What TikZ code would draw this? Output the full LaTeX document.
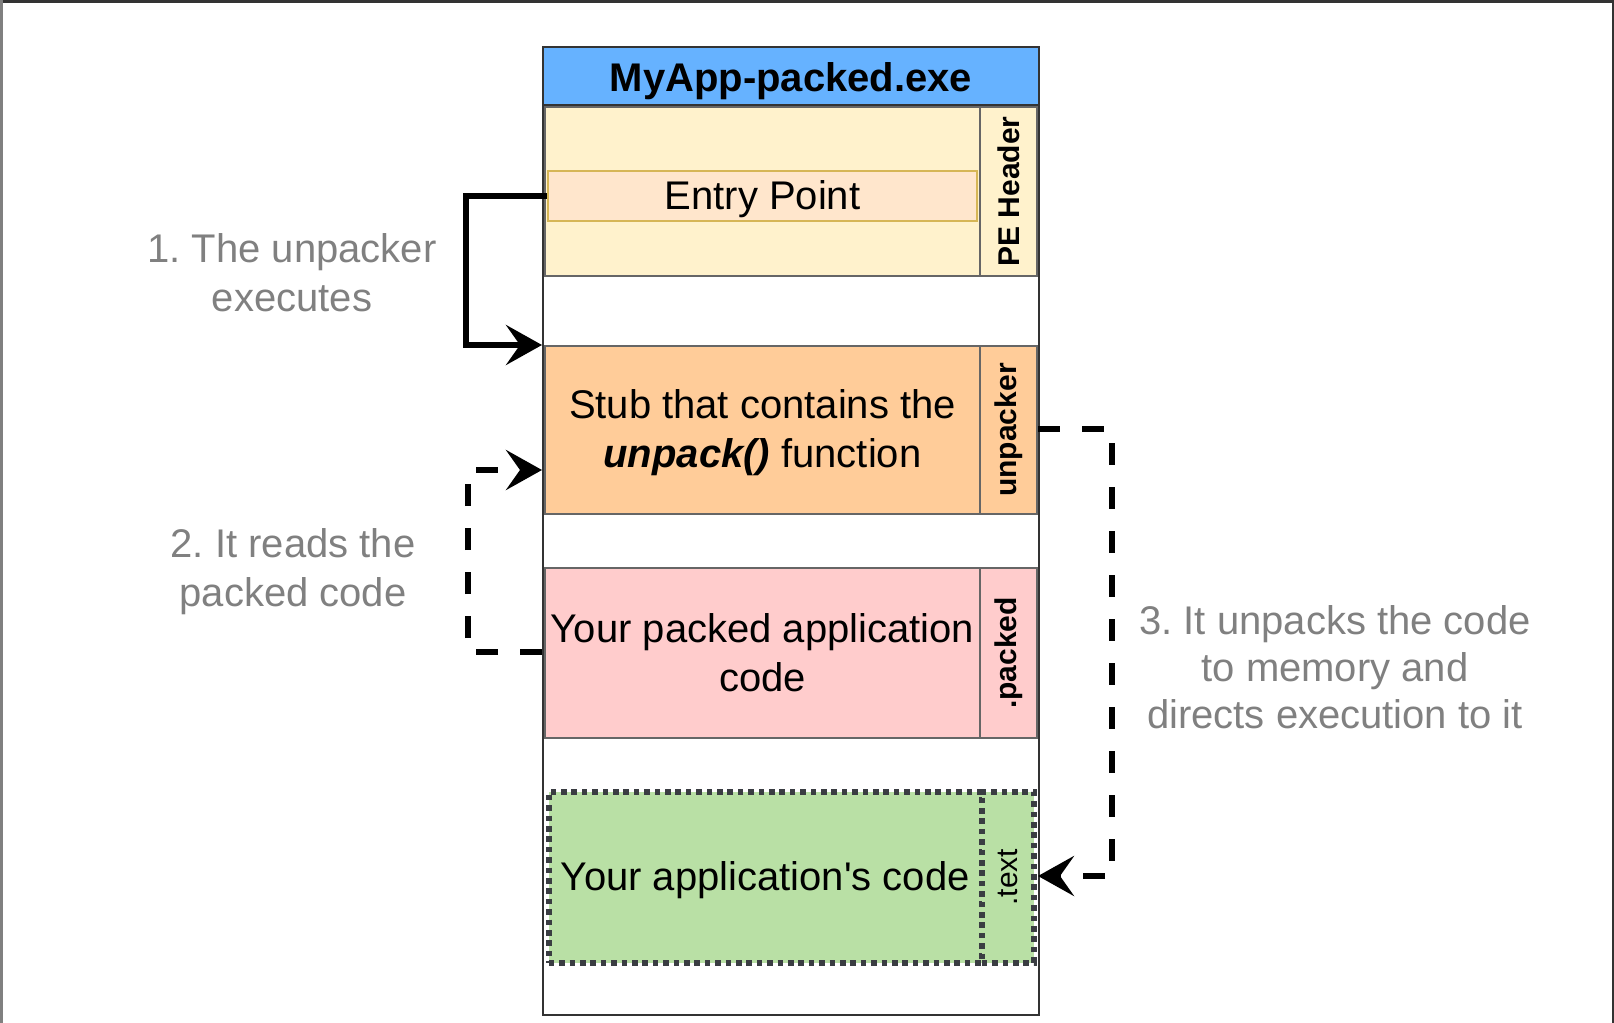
\documentclass[tikz,border=0pt]{standalone}
\usepackage{fontspec}
\setmainfont{Liberation Sans}[Ligatures=TeXOff]
\usetikzlibrary{arrows.meta,calc}
\definecolor{titleblue}{HTML}{66B2FF}
\definecolor{pefill}{HTML}{FFF2CC}
\definecolor{entryfill}{HTML}{FFE6CC}
\definecolor{entrydraw}{HTML}{D6B656}
\definecolor{unpfill}{HTML}{FFCC99}
\definecolor{packfill}{HTML}{FFCCCC}
\definecolor{textfill}{HTML}{B9E0A5}
\definecolor{secgray}{HTML}{666666}
\definecolor{darkline}{HTML}{333333}
\definecolor{dotline}{HTML}{3A3D42}
\definecolor{labelgray}{HTML}{808080}
\begin{document}
\frenchspacing
\begin{tikzpicture}[x=0.5pt,y=-0.5pt,
  sect/.style={draw=secgray, line width=1pt, inner sep=0pt, anchor=north west, align=center,
    font=\fontsize{20pt}{24.5pt}\selectfont},
  mainsect/.style={sect, minimum width=217.5pt},
  sidesect/.style={sect, minimum width=28.5pt},
  sidelabel/.style={rotate=90, inner sep=0pt, font=\fontsize{15pt}{18pt}\selectfont\bfseries},
  annot/.style={align=center, text=labelgray, inner sep=0pt, font=\fontsize{20pt}{24.5pt}\selectfont},
  flowline/.style={line width=3pt, -{Stealth[length=18pt,width=20pt,inset=7pt]}},
  dashflow/.style={flowline, dash pattern=on 11pt off 11pt},
  dotsect/.style={draw=dotline, line width=2.8pt, dash pattern=on 2.8pt off 2.4pt}
]
\useasboundingbox (0,0) rectangle (1614,1023);
% screenshot frame
\draw[darkline, line width=1.5pt] (0,1) -- (1614,1);
\draw[labelgray, line width=1.5pt] (1,0) -- (1,1023);
\draw[darkline, line width=1.5pt] (1613,0) -- (1613,1023);

% outer container
\node[draw=darkline, line width=1pt, fill=white, inner sep=0pt, anchor=north west,
  minimum width=248pt, minimum height=484pt] (outer) at (542,46) {};

% PE header
\node[mainsect, fill=pefill, minimum height=84.5pt] (pe) at (544,106) {};
\node[sidesect, fill=pefill, minimum height=84.5pt] (peside) at (979,106) {};
\node[sidelabel] (pelabel) at (peside.center) {PE Header};
\node[sect, fill=entryfill, draw=entrydraw, minimum width=214.5pt, minimum height=25pt] (entry) at (547,170) {};
\node[inner sep=0pt, font=\fontsize{20pt}{24.5pt}\selectfont] (entrytext) at ($(entry.center)+(0,3)$) {Entry Point};

% unpacker
\node[mainsect, fill=unpfill, minimum height=84pt] (unp) at (544,345) {};
\node[inner sep=0pt, align=center, font=\fontsize{20pt}{24.5pt}\selectfont] (unptext) at ($(unp.center)+(0,3)$) {Stub that contains the\\\textbf{\textit{unpack()}} function};
\node[sidesect, fill=unpfill, minimum height=84pt] (unpside) at (979,345) {};
\node[sidelabel] (unplabel) at (unpside.center) {unpacker};

% packed
\node[mainsect, fill=packfill, minimum height=85pt] (packed) at (544,567) {Your packed application\\code};
\node[sidesect, fill=packfill, minimum height=85pt] (packside) at (979,567) {};
\node[sidelabel] (packlabel) at (packside.center) {.packed};

% text
\node[sect, fill=textfill, dotsect, minimum width=216.5pt, minimum height=85.5pt] (txt) at (546,789) {};
\node[inner sep=0pt, font=\fontsize{20pt}{24.5pt}\selectfont] (txttext) at ($(txt.center)+(0,3)$) {Your application's code};
\node[sect, fill=textfill, dotsect, minimum width=26pt, minimum height=85.5pt] (txtside) at (979,789) {};
\node[sidelabel, font=\fontsize{15pt}{18pt}\selectfont] (txtlabel) at (txtside.center) {.text};

% title
\node[draw=darkline, line width=1pt, fill=titleblue, inner sep=0pt, anchor=north west,
  minimum width=248pt, minimum height=29pt] (title) at (542,46) {};
\node[inner sep=0pt, font=\fontsize{20pt}{24pt}\selectfont\bfseries] (titletext) at ($(title.center)+(0,5)$) {MyApp-packed.exe};

% annotations
\node[annot] (a1) at (292,273) {1. The unpacker\\executes};
\node[annot] (a2) at (293,572) {2. It reads the\\packed code};
\node[annot, font=\fontsize{20pt}{23.4pt}\selectfont] (a3) at (1335,667) {3. It unpacks the code\\to memory and\\directs execution to it};

% connectors
\coordinate (e1) at (542,345);
\coordinate (e2) at (542,470);
\coordinate (e3) at (1038,876);
\coordinate (s2) at (542,652);
\coordinate (s3) at (1038,429);
\draw[flowline] (entry.west) -- ++(-81,0) |- (e1);
\draw[dashflow] (s2) -- ++(-74,0) |- (e2);
\draw[dashflow] (s3) -- ++(74,0) |- (e3);
\end{tikzpicture}
\end{document}
